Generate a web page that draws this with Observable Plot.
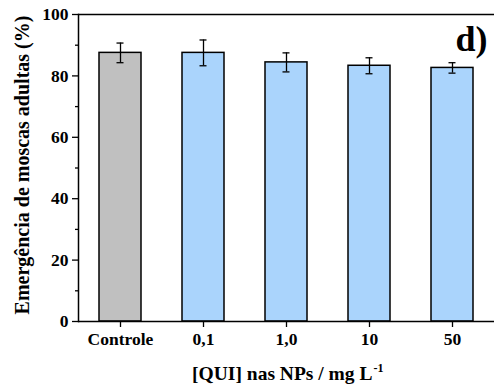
<!DOCTYPE html>
<html>
<head>
<meta charset="utf-8">
<script src="https://cdn.jsdelivr.net/npm/d3@7"></script>
<script src="https://cdn.jsdelivr.net/npm/@observablehq/plot@0.6"></script>
<style>
  html, body { margin: 0; padding: 0; background: #fff; }
  #chart svg { display: block; }
</style>
</head>
<body>
<div id="chart"></div>
<script>
const categories = ["Controle", "0,1", "1,0", "10", "50"];
const values = [87.5, 87.5, 84.4, 83.3, 82.6];
const errors = [3.2, 4.2, 3.1, 2.6, 1.7];
const fills = ["#c0c0c0", "#aad4fc", "#aad4fc", "#aad4fc", "#aad4fc"];
const majorTicks = [0, 20, 40, 60, 80, 100];
const minorTicks = [10, 30, 50, 70, 90];
const yTitle = "Emergência de moscas adultas (%)";
const xTitle = "[QUI] nas NPs / mg L";
const xTitleSup = "-1";
const panelLabel = "d)";

const data = categories.map((c, i) => ({
  cat: c, v: values[i], e: errors[i], fill: fills[i],
  lo: values[i] - errors[i], hi: values[i] + errors[i]
}));

const font = "'Liberation Serif', 'Times New Roman', serif";

const chart = Plot.plot({
  width: 494,
  height: 387,
  marginLeft: 78,
  marginRight: 0,
  marginTop: 14,
  marginBottom: 66,
  style: `font-family: ${font}; font-weight: bold; font-size: 17px; color: #000; background: #fff;`,
  x: {domain: categories, paddingInner: 0.5, paddingOuter: 0.25, label: null},
  y: {domain: [0, 100], label: null},
  marks: [
    Plot.barY(data, {x: "cat", y: "v", fill: "fill", stroke: "#000", strokeWidth: 1.5}),
    Plot.ruleX(data, {x: "cat", y1: "lo", y2: "hi", stroke: "#000", strokeWidth: 1.3}),
    Plot.tickY(data, {x: "cat", y: "lo", stroke: "#000", strokeWidth: 1.3, insetLeft: 17.5, insetRight: 17.5}),
    Plot.tickY(data, {x: "cat", y: "hi", stroke: "#000", strokeWidth: 1.3, insetLeft: 17.5, insetRight: 17.5}),
    Plot.ruleY([0, 100], {stroke: "#000", strokeWidth: 1.5}),
    Plot.frame({anchor: "left", stroke: "#000", strokeWidth: 1.5}),
    Plot.axisY({ticks: majorTicks, tickSize: 6, tickPadding: 4, tickFormat: d => String(d), label: null, strokeWidth: 1.3, fontSize: 17.5, fontFamily: font}),
    Plot.axisY({ticks: minorTicks, tickSize: 3, tickFormat: () => "", label: null, strokeWidth: 1.3}),
    Plot.axisX({tickSize: 6, tickPadding: 5, label: null, strokeWidth: 1.3, fontSize: 17.5, fontFamily: font}),
    Plot.text([yTitle], {frameAnchor: "left", textAnchor: "middle", dx: -56, dy: -3, rotate: -90, fontSize: 20, fontWeight: "bold", fontFamily: font, text: d => d}),
    Plot.text([xTitle], {frameAnchor: "bottom", textAnchor: "end", dx: 86, dy: 58, fontSize: 19.5, fontWeight: "bold", fontFamily: font, text: d => d}),
    Plot.text([xTitleSup], {frameAnchor: "bottom", textAnchor: "start", dx: 87, dy: 50, fontSize: 12, fontWeight: "bold", fontFamily: font, text: d => d}),
    Plot.text([panelLabel], {frameAnchor: "top-right", textAnchor: "end", dx: -7, dy: 11, fontSize: 36, fontWeight: "bold", fontFamily: font, text: d => d})
  ]
});
document.getElementById("chart").appendChild(chart);
</script>
</body>
</html>
